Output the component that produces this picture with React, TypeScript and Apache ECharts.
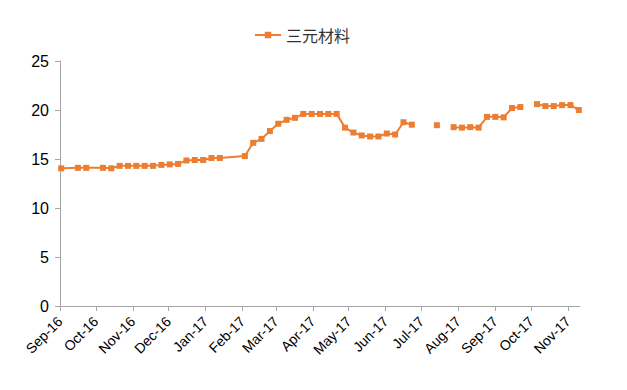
import React, { useEffect, useRef } from 'react';
import * as echarts from 'echarts';

const seriesName = '三元材料';

const dates = [
  '2016-09-02', '2016-09-16', '2016-09-23', '2016-10-07', '2016-10-14', '2016-10-21', '2016-10-28',
  '2016-11-04', '2016-11-11', '2016-11-18', '2016-11-25', '2016-12-02', '2016-12-09', '2016-12-16',
  '2016-12-23', '2016-12-30', '2017-01-06', '2017-01-13', '2017-02-03', '2017-02-10', '2017-02-17',
  '2017-02-24', '2017-03-03', '2017-03-10', '2017-03-17', '2017-03-24', '2017-03-31', '2017-04-07',
  '2017-04-14', '2017-04-21', '2017-04-28', '2017-05-05', '2017-05-12', '2017-05-19', '2017-05-26',
  '2017-06-02', '2017-06-09', '2017-06-16', '2017-06-23', '2017-06-30', '2017-07-07', '2017-07-14',
  '2017-07-21', '2017-07-28', '2017-08-04', '2017-08-11', '2017-08-18', '2017-08-25', '2017-09-01',
  '2017-09-08', '2017-09-15', '2017-09-22', '2017-09-29', '2017-10-06', '2017-10-13', '2017-10-20',
  '2017-10-27', '2017-11-03', '2017-11-10',
];

const values: (number | null)[] = [
  14.05, 14.1, 14.1, 14.1, 14.05, 14.3, 14.3,
  14.3, 14.3, 14.3, 14.4, 14.45, 14.5, 14.85,
  14.9, 14.9, 15.1, 15.1, 15.3, 16.65, 17.05,
  17.85, 18.6, 19.0, 19.2, 19.6, 19.6, 19.6,
  19.6, 19.6, 18.2, 17.7, 17.4, 17.3, 17.3,
  17.6, 17.5, 18.75, 18.5, null, null, 18.45,
  null, 18.25, 18.2, 18.25, 18.2, 19.3, 19.3,
  19.25, 20.2, 20.3, null, 20.6, 20.4, 20.4,
  20.5, 20.5, 20.0,
];

const monthTicks = [
  '2016-09-01', '2016-10-01', '2016-11-01', '2016-12-01', '2017-01-01', '2017-02-01', '2017-03-01',
  '2017-04-01', '2017-05-01', '2017-06-01', '2017-07-01', '2017-08-01', '2017-09-01', '2017-10-01',
  '2017-11-01',
];

const tickLabels = [
  'Sep-16', 'Oct-16', 'Nov-16', 'Dec-16', 'Jan-17', 'Feb-17', 'Mar-17',
  'Apr-17', 'May-17', 'Jun-17', 'Jul-17', 'Aug-17', 'Sep-17', 'Oct-17',
  'Nov-17',
];

const axisMin = '2016-09-01';
const axisMax = '2017-11-11';

const toTime = (d: string) => Date.UTC(+d.slice(0, 4), +d.slice(5, 7) - 1, +d.slice(8, 10));

export default function App() {
  const ref = useRef<HTMLDivElement>(null);

  useEffect(() => {
    if (!ref.current) return;
    const chart = echarts.init(ref.current, null, { renderer: 'svg' });
    const tickTimes = monthTicks.map(toTime);
    const axisColor = '#a6a6a6';
    const font = '"Liberation Sans", Arial, sans-serif';

    chart.setOption({
      animation: false,
      backgroundColor: '#ffffff',
      legend: {
        top: 22,
        left: 249,
        itemWidth: 26,
        itemHeight: 8,
        itemGap: 4,
        textStyle: { fontSize: 16, color: '#333', fontFamily: '"Noto Sans CJK SC", sans-serif' },
        data: [seriesName],
      },
      grid: { left: 60, right: 47, top: 61, bottom: 84 },
      xAxis: {
        type: 'value',
        min: toTime(axisMin),
        max: toTime(axisMax),
        scale: true,
        axisLine: { show: true, lineStyle: { color: axisColor, width: 1 } },
        axisTick: {
          show: true,
          customValues: tickTimes,
          length: 5,
          lineStyle: { color: axisColor },
        },
        axisLabel: {
          customValues: tickTimes,
          rotate: 45,
          fontSize: 14,
          color: '#000',
          fontFamily: font,
          margin: 13,
          showMinLabel: true,
          showMaxLabel: true,
          formatter: (v: number) => {
            let best = -1;
            let bestD = Infinity;
            tickTimes.forEach((t, i) => {
              const d = Math.abs(t - v);
              if (d < bestD) { bestD = d; best = i; }
            });
            return bestD < 2 * 86400000 ? tickLabels[best] : '';
          },
        },
        splitLine: { show: false },
      },
      yAxis: {
        type: 'value',
        min: 0,
        max: 25,
        interval: 5,
        axisLine: { show: true, lineStyle: { color: axisColor, width: 1 } },
        axisTick: { show: true, length: 5, lineStyle: { color: axisColor } },
        axisLabel: { fontSize: 16, color: '#000', fontFamily: font, margin: 11 },
        splitLine: { show: false },
      },
      series: [
        {
          name: seriesName,
          type: 'line',
          data: dates.map((d, i) => [toTime(d), values[i] === null ? '-' : values[i]]),
          connectNulls: false,
          symbol: 'rect',
          symbolSize: 6,
          showAllSymbol: true,
          itemStyle: { color: '#ED7D31' },
          lineStyle: { color: '#ED7D31', width: 2 },
        },
      ],
    });

    return () => chart.dispose();
  }, []);

  return (
    <div
      ref={ref}
      style={{ position: 'fixed', left: 0, top: 0, width: 627, height: 390 }}
    />
  );
}
